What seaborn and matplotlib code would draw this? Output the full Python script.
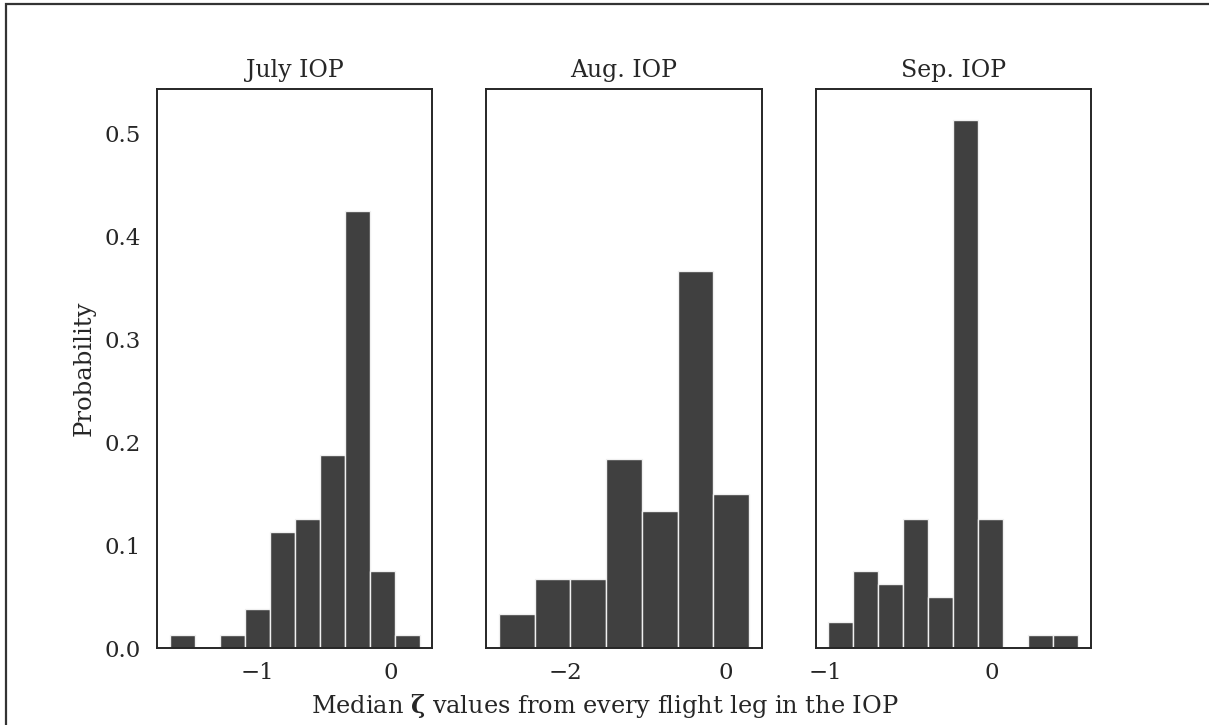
import numpy as np
import pandas as pd
import matplotlib
matplotlib.use("Agg")
import matplotlib.pyplot as plt
from matplotlib.patches import Rectangle
import seaborn as sns

# Campaign periods (one panel each)
periods = ["July IOP", "Aug. IOP", "Sep. IOP"]

# Histogram bin layout per period: left edge of the first bin and bin width
july_bin_start, july_bin_width = -1.659, 0.188
aug_bin_start, aug_bin_width = -2.83, 0.446
sep_bin_start, sep_bin_width = -0.986, 0.151

# Number of flight legs falling into each bin
july_counts = [1, 0, 1, 3, 9, 10, 15, 34, 6, 1]
aug_counts = [2, 4, 4, 11, 8, 22, 9]
sep_counts = [2, 6, 5, 10, 4, 41, 10, 0, 1, 1]

# Integer tick positions shown under each panel
july_ticks = [-1, 0]
aug_ticks = [-2, 0]
sep_ticks = [-1, 0]

y_max = 0.543

sns.set_theme(style="white")
plt.rcParams["font.family"] = ["DejaVu Serif"]
plt.rcParams["mathtext.fontset"] = "dejavuserif"
plt.rcParams["axes.edgecolor"] = "#262626"
plt.rcParams["axes.linewidth"] = 1.4

fig, axes = plt.subplots(1, 3, figsize=(12.09, 7.25), dpi=100, sharey=True)
fig.subplots_adjust(left=0.1299, right=0.9024, bottom=0.1062, top=0.8772,
                    wspace=0.196)

panels = [
    (july_bin_start, july_bin_width, july_counts, july_ticks),
    (aug_bin_start, aug_bin_width, aug_counts, aug_ticks),
    (sep_bin_start, sep_bin_width, sep_counts, sep_ticks),
]

for ax, title, (start, width, counts, ticks) in zip(axes, periods, panels):
    edges = start + width * np.arange(len(counts) + 1)
    legs = pd.DataFrame({"zeta": 0.5 * (edges[:-1] + edges[1:]),
                         "n": np.asarray(counts, dtype=float)})
    sns.histplot(data=legs, x="zeta", weights="n", bins=list(edges),
                 stat="probability", color="#404040", alpha=1.0,
                 edgecolor="#f0f0f0", linewidth=1.0, ax=ax)
    ax.set_title(title, fontsize=17, pad=9, color="#262626")
    ax.set_xticks(ticks)
    ax.set_xlabel("")
    ax.tick_params(axis="x", labelsize=16.5, pad=4, colors="#262626")
    ax.tick_params(axis="y", labelsize=16.5, pad=6, colors="#262626")
    for side in ["top", "right", "bottom", "left"]:
        ax.spines[side].set_visible(True)

axes[0].set_ylim(0, y_max)
axes[0].set_yticks([0.0, 0.1, 0.2, 0.3, 0.4, 0.5])
axes[0].set_ylabel("Probability", fontsize=17.5, labelpad=6, color="#262626")
for ax in axes[1:]:
    ax.set_ylabel("")
    ax.tick_params(axis="y", labelleft=False)

fig.text(0.5, 0.026,
         r"Median $\mathbf{\zeta}$ values from every flight leg in the IOP",
         ha="center", va="center", fontsize=17.3, color="#262626")

# Thin frame around the figure area
fig.patches.append(Rectangle((6 / 1209, -0.2), 1.5, 1.2 - 3.5 / 725,
                             transform=fig.transFigure, fill=False,
                             edgecolor="#333333", linewidth=1.6, zorder=10))

fig.savefig("out.png", dpi=100)
